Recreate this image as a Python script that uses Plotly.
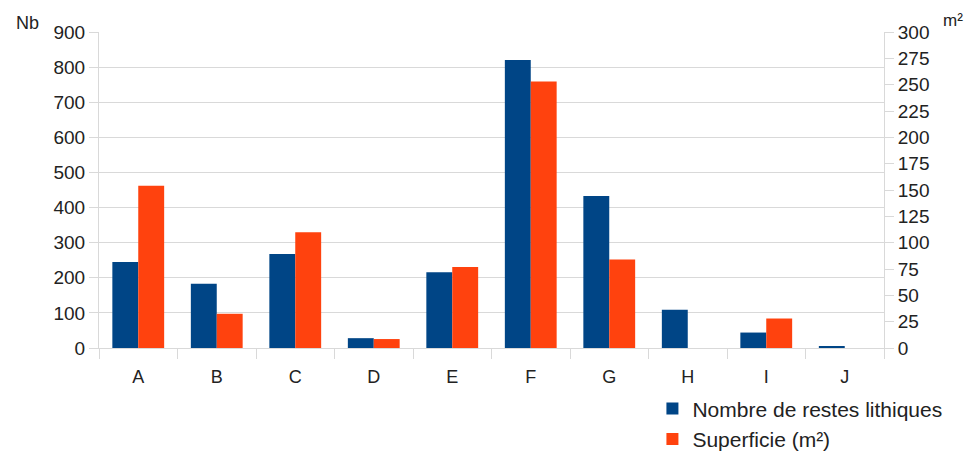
import plotly.graph_objects as go

categories = ["A", "B", "C", "D", "E", "F", "G", "H", "I", "J"]
nb_restes = [245, 183, 268, 28, 216, 820, 433, 109, 44, 3]
superficie = [154, 32.5, 110, 8.5, 77, 253, 84, 0, 28, 0]

left_ticks = list(range(0, 901, 100))
right_ticks = list(range(0, 301, 25))

BLUE = "#004586"
ORANGE = "#ff420e"
GRID = "#d9d9d9"
TXT = "#222222"
FONT = "Liberation Sans, Arial, sans-serif"

fig = go.Figure()
fig.add_trace(go.Bar(x=categories, y=nb_restes, name="Nombre de restes lithiques",
                     marker=dict(color=BLUE, line=dict(width=0)),
                     offsetgroup="1", yaxis="y"))
fig.add_trace(go.Bar(x=categories, y=superficie, name="Superficie (m²)",
                     marker=dict(color=ORANGE, line=dict(width=0)),
                     offsetgroup="2", yaxis="y2"))

# the page body adds an 8px margin, so the figure is sized to fit the window
fig.update_layout(
    width=965, height=444,
    margin=dict(l=91, r=89, t=24, b=104, autoexpand=False),
    paper_bgcolor="white", plot_bgcolor="white",
    barmode="group", bargap=0.34, bargroupgap=0,
    font=dict(family=FONT, size=19, color=TXT),
    showlegend=True,
    legend=dict(x=0.705, y=-0.128, xanchor="left", yanchor="top",
                font=dict(size=21, color=TXT), tracegroupgap=0,
                itemwidth=30, bgcolor="rgba(0,0,0,0)"),
    xaxis=dict(type="category", showgrid=False, ticks="outside", tickson="boundaries",
               ticklen=10, tickcolor=GRID, showline=True, linecolor=GRID, linewidth=1,
               tickfont=dict(size=18, color=TXT), ticklabelstandoff=12),
    yaxis=dict(range=[0, 900], tickvals=left_ticks, ticktext=[str(v) for v in left_ticks],
               showgrid=True, gridcolor=GRID, gridwidth=1, zeroline=False,
               showline=True, linecolor=GRID, ticks="outside", ticklen=9, tickcolor=GRID,
               tickfont=dict(size=19, color=TXT)),
    yaxis2=dict(range=[0, 300], tickvals=right_ticks, ticktext=[str(v) for v in right_ticks],
                overlaying="y", side="right", showgrid=False, zeroline=False,
                showline=True, linecolor=GRID, ticks="outside", ticklen=9, tickcolor=GRID,
                tickfont=dict(size=19, color=TXT)),
    annotations=[
        dict(text="Nb", xref="paper", yref="paper", x=-0.108, y=1.03, xanchor="left",
             yanchor="middle", showarrow=False, font=dict(size=18, color=TXT)),
        dict(text="m²", xref="paper", yref="paper", x=1.073, y=1.035, xanchor="left",
             yanchor="middle", showarrow=False, font=dict(size=17, color=TXT)),
    ],
)

fig.write_html("out.html")
